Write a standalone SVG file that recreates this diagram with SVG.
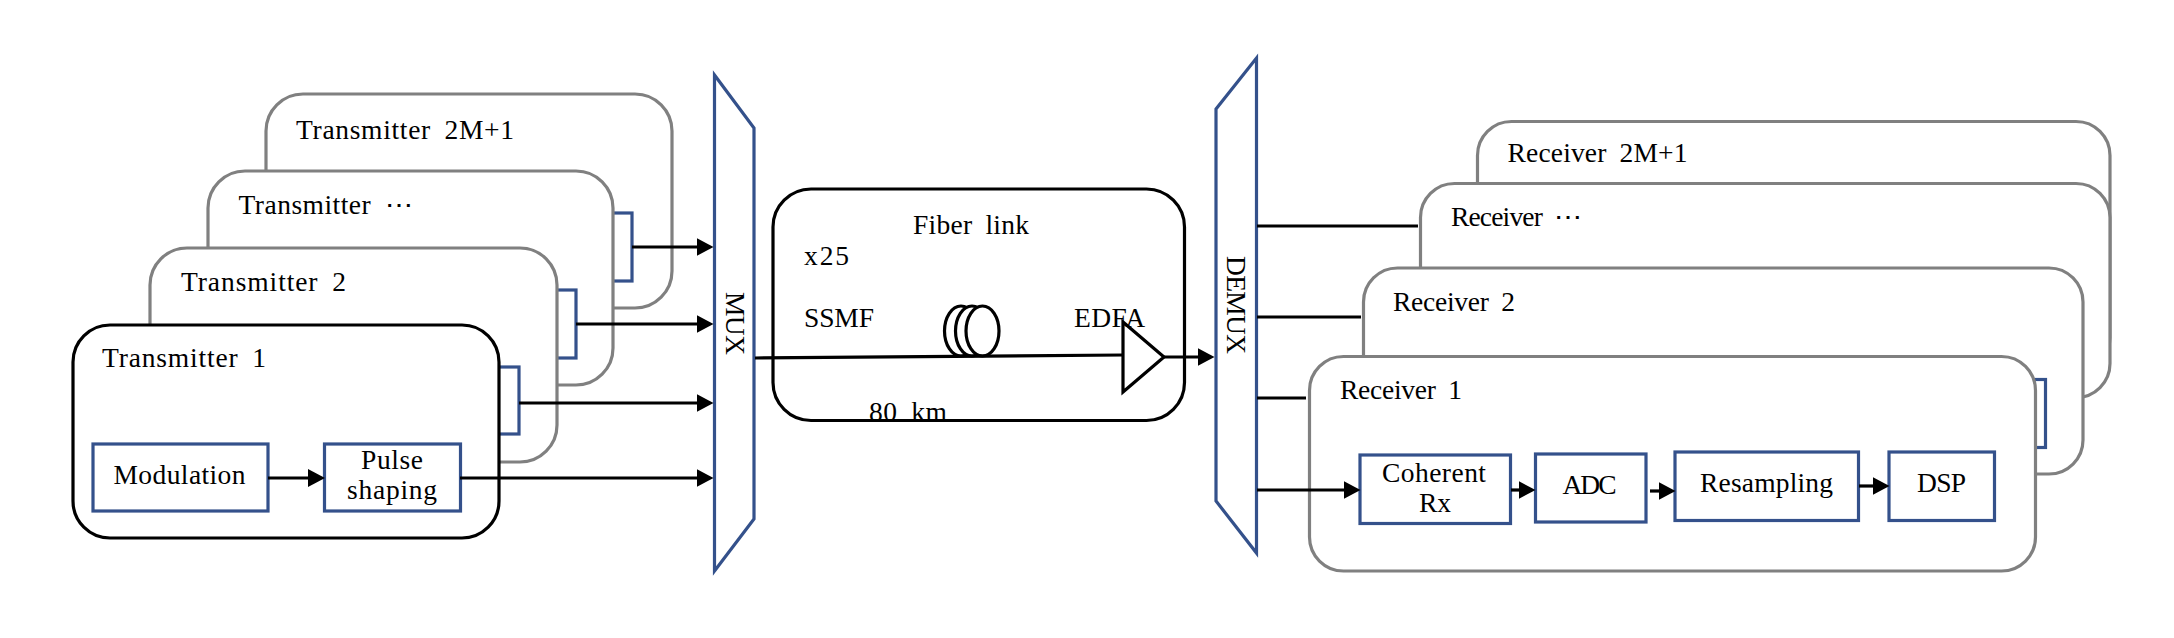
<svg xmlns="http://www.w3.org/2000/svg" width="2174" height="638" viewBox="0 0 2174 638">
<style>
text{font-family:"Liberation Serif","DejaVu Serif",serif;font-size:27.500px;fill:#000;word-spacing:6px}
.g{fill:#fff;stroke:#808080;stroke-width:3.200}
.k{fill:#fff;stroke:#000;stroke-width:3.200}
.b{fill:#fff;stroke:#34518b;stroke-width:3.200}
.l{fill:none;stroke:#000;stroke-width:3.200}
.a{fill:none;stroke:#000;stroke-width:3.200;marker-end:url(#ah)}
</style>
<defs><marker id="ah" markerUnits="userSpaceOnUse" markerWidth="17" markerHeight="18" viewBox="0 0 17 18" refX="9" refY="9" orient="auto"><path d="M0 0L17 9L0 18Z" fill="#000"/></marker></defs>
<rect width="2174" height="638" fill="#fff"/>
<g id="tx-2m1"><rect class="g" x="266" y="94" width="406" height="214" rx="37"/><text x="296" y="139" textLength="218">Transmitter 2M+1</text></g>
<g id="tx-n"><rect class="b" x="600" y="213" width="32" height="68"/><rect class="g" x="208" y="171" width="405" height="214" rx="37"/><text x="238.500" y="214" textLength="174">Transmitter ⋯</text></g>
<g id="tx-2"><rect class="b" x="540" y="290" width="36" height="68"/><rect class="g" x="150" y="248" width="407" height="214" rx="37"/><text x="181" y="291" textLength="165">Transmitter 2</text></g>
<g id="tx-1"><rect class="b" x="480" y="367" width="39" height="67"/><rect class="k" x="73" y="325" width="426" height="213" rx="37"/><text x="102" y="367" textLength="164">Transmitter 1</text></g>
<g id="modulation"><rect class="b" x="93" y="444" width="175" height="67"/><text x="113.500" y="484" textLength="132">Modulation</text></g>
<g id="pulse"><rect class="b" x="324.500" y="444" width="136" height="67"/><text x="361" y="469" textLength="62">Pulse</text><text x="347" y="499" textLength="90">shaping</text></g>
<g id="mux"><path class="b" d="M714.500 75L754 128V519L714.500 571Z"/><text transform="translate(726 292) rotate(90)" textLength="63">MUX</text></g>
<g id="fiber"><rect class="k" x="773" y="189" width="411.500" height="231.500" rx="38"/><text x="913" y="234" textLength="116">Fiber link</text><text x="804" y="265" textLength="45">x25</text><text x="804" y="327" textLength="70">SSMF</text><text x="1074" y="327" textLength="71">EDFA</text><text x="869" y="421" textLength="78">80 km</text></g>
<g id="demux"><path class="b" d="M1216 109L1256.500 58V553L1216 501Z"/><text transform="translate(1226.500 256) rotate(90)" textLength="98">DEMUX</text></g>
<g id="rx-2m1"><rect class="g" x="1477.500" y="121.500" width="632.500" height="250" rx="34"/><text x="1507.500" y="162" textLength="180">Receiver 2M+1</text></g>
<g id="rx-n"><rect class="g" x="1420.500" y="183.500" width="689.500" height="214" rx="34"/><text x="1451" y="226" textLength="131">Receiver ⋯</text></g>
<g id="rx-2"><rect class="g" x="1363.500" y="268" width="719.500" height="206" rx="34"/><text x="1393" y="311" textLength="122">Receiver 2</text></g>
<g id="rx-1"><rect class="b" x="2020" y="379.500" width="25.500" height="68"/><rect class="g" x="1309.500" y="356.500" width="726" height="214.500" rx="34"/><text x="1340" y="399" textLength="122">Receiver 1</text></g>
<g id="coherent"><rect class="b" x="1360" y="455" width="150.500" height="68.500"/><text x="1382" y="482" textLength="104">Coherent</text><text x="1419" y="512" textLength="32">Rx</text></g>
<g id="adc"><rect class="b" x="1535.500" y="454" width="110.500" height="68"/><text x="1562.500" y="494" textLength="54">ADC</text></g>
<g id="resampling"><rect class="b" x="1675" y="452" width="183.500" height="68.500"/><text x="1700" y="492" textLength="133">Resampling</text></g>
<g id="dsp"><rect class="b" x="1889" y="452" width="105.500" height="68.500"/><text x="1917" y="492" textLength="49">DSP</text></g>
<g id="coil"><ellipse class="k" cx="961" cy="331" rx="16.500" ry="25"/><ellipse class="k" cx="972" cy="331" rx="16.500" ry="25"/><ellipse class="k" cx="982.500" cy="331" rx="16.500" ry="25"/></g>
<g id="edfa"><path class="l" d="M1123 322L1164 357L1123 392Z"/></g>
<g id="connectors">
<path class="a" d="M632 247H705.500"/>
<path class="a" d="M576 324H705.500"/>
<path class="a" d="M519 403H705.500"/>
<path class="a" d="M460 478H705.500"/>
<path class="a" d="M268 478H317"/>
<path class="l" d="M755 358L1123 355"/>
<path class="a" d="M1164 357H1206.500"/>
<path class="l" d="M1257 226H1418"/>
<path class="l" d="M1257 317H1361"/>
<path class="l" d="M1257 398H1306"/>
<path class="a" d="M1257 490H1352.500"/>
<path class="a" d="M1511 490H1527.500"/>
<path class="a" d="M1650 491H1667.500"/>
<path class="a" d="M1859 486H1881.500"/>
</g>
</svg>
